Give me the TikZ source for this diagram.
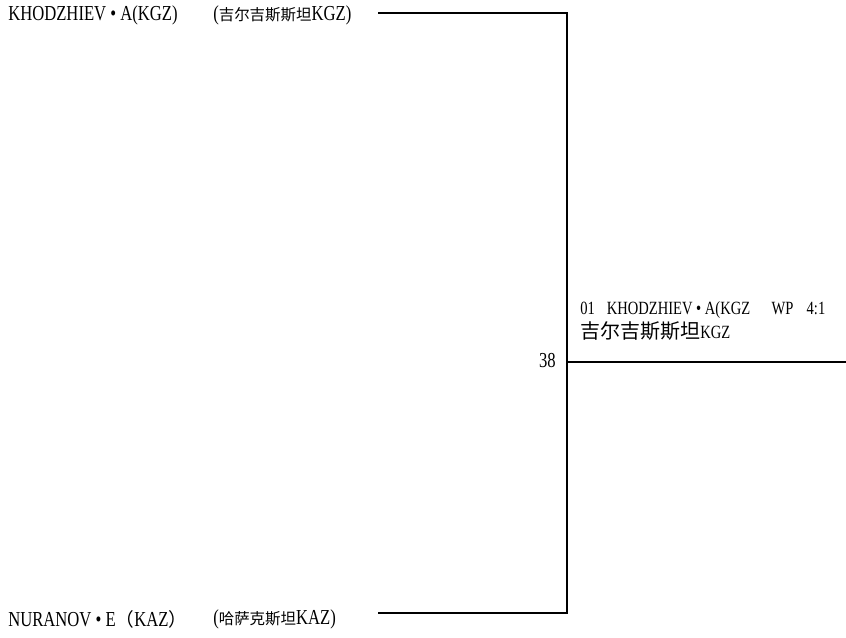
\documentclass[tikz,border=0pt]{standalone}
\usepackage{fontspec}
\setmainfont{Liberation Serif}[FakeStretch=0.78]
\newfontfamily\cjk{Noto Sans CJK SC}

\begin{document}
\begin{tikzpicture}[x=0.75pt, y=-0.75pt,
	every node/.style={inner sep=0pt},
	entry/.style={right, font=\fontsize{16}{18}\selectfont},
	result/.style={right, font=\fontsize{14}{16}\selectfont},
	bracket/.style={line width=1.2pt}]
	\useasboundingbox (0,0) rectangle (846,637);
	\coordinate (topend) at (378,13);
	\coordinate (topcorner) at (567,13);
	\coordinate (botend) at (378,613);
	\coordinate (botcorner) at (567,613);
	\coordinate (join) at (567,362);
	\coordinate (winend) at (846,362);
	\draw [bracket] (topend) -- (topcorner) -- (botcorner) -- (botend);
	\draw [bracket] (join) -- (winend);
	% entrants
	\node [entry] (redname) at (8, 15) {KHODZHIEV • A(KGZ)};
	\node [entry] (redteam) at (213, 15) {({\cjk\fontsize{11.6}{14}\selectfont 吉尔吉斯斯坦}KGZ)};
	\node [entry] (bluename) at (8, 619) {NURANOV • E{\cjk\fontsize{14}{16}\selectfont （}KAZ{\cjk\fontsize{14}{16}\selectfont ）}};
	\node [entry] (blueteam) at (213, 619) {({\cjk\fontsize{11.6}{14}\selectfont 哈萨克斯坦}KAZ)};
	% bout and winner
	\node [left, font=\fontsize{16}{18}\selectfont] (bout) at (556, 360) {38};
	\node [result] (winner) at (580, 310) {01\hspace{9pt}KHODZHIEV • A(KGZ\hspace{16pt}WP\hspace{10pt}4:1};
	\node [result] (winteam) at (580, 331) {{\cjk\fontsize{15}{17}\selectfont 吉尔吉斯斯坦}KGZ};
\end{tikzpicture}
\end{document}
